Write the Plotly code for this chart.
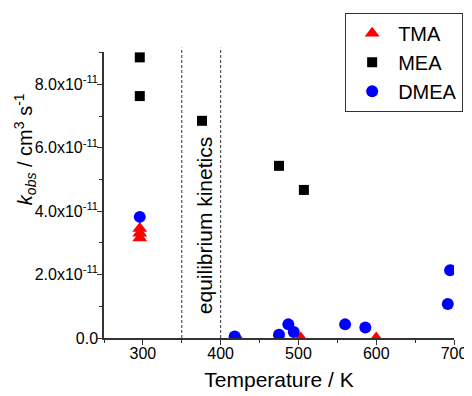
import plotly.graph_objects as go

# Data (temperature in K, k_obs in cm^3 s^-1)
tma_T = [296, 296, 296, 422, 503, 600]
tma_k = [3.45e-11, 3.3e-11, 3.15e-11, 0.0, 0.0, 0.0]

mea_T = [296, 296, 376, 475, 507]
mea_k = [8.85e-11, 7.63e-11, 6.85e-11, 5.43e-11, 4.67e-11]

dmea_T = [296, 418, 475, 487, 494, 560, 586, 692, 695]
dmea_k = [3.82e-11, 0.05e-11, 0.1e-11, 0.43e-11, 0.19e-11, 0.43e-11, 0.33e-11, 1.07e-11, 2.14e-11]

ytick_vals = [0, 2e-11, 4e-11, 6e-11, 8e-11]
ytick_text = ["0.0", "2.0x10<sup>-11</sup>", "4.0x10<sup>-11</sup>",
              "6.0x10<sup>-11</sup>", "8.0x10<sup>-11</sup>"]
xtick_vals = [300, 400, 500, 600, 700]
eq_lines = [350, 400]

FONT = "Liberation Sans, Arial, sans-serif"

fig = go.Figure()
fig.add_trace(go.Scatter(x=tma_T, y=tma_k, mode="markers", name="TMA",
                         marker=dict(symbol="triangle-up", size=13, color="#ff0000")))
fig.add_trace(go.Scatter(x=mea_T, y=mea_k, mode="markers", name="MEA",
                         marker=dict(symbol="square", size=10, color="#000000")))
fig.add_trace(go.Scatter(x=dmea_T, y=dmea_k, mode="markers", name="DMEA",
                         marker=dict(symbol="circle", size=12, color="#0000ff")))

for xv in eq_lines:
    fig.add_shape(type="line", x0=xv, x1=xv, xref="x", yref="paper", y0=0, y1=1.015,
                  line=dict(color="#333333", width=1, dash="3px,2px"))

fig.add_annotation(x=378.7, y=3.53e-11, xref="x", yref="y", text="equilibrium kinetics",
                   textangle=-90, showarrow=False, xanchor="center", yanchor="middle",
                   font=dict(size=21, color="#000", family=FONT))

fig.add_annotation(x=-0.226, y=0.66, xref="paper", yref="paper",
                   text="<i>k<sub>obs</sub></i> / cm<sup>3</sup> s<sup>-1</sup>",
                   textangle=-90, showarrow=False, xanchor="center", yanchor="middle",
                   font=dict(size=20, color="#000", family=FONT))

# the page body adds an 8px offset; the figure is sized to fill the rest of the window
fig.update_layout(
    width=464, height=388,
    margin=dict(l=96, r=18, t=44, b=58, autoexpand=False),
    paper_bgcolor="white", plot_bgcolor="white",
    font=dict(family=FONT, size=16, color="#000"),
    showlegend=True,
    legend=dict(x=0.689, y=1.137, xanchor="left", yanchor="top",
                bordercolor="#333333", borderwidth=1, bgcolor="white",
                font=dict(size=20, family=FONT), itemwidth=42,
                entrywidth=90, entrywidthmode="pixels",
                tracegroupgap=0),
    xaxis=dict(range=[250, 700], tickvals=xtick_vals, showgrid=False, zeroline=False,
               automargin=False,
               showline=True, linecolor="#333333", linewidth=1.5,
               ticks="outside", ticklen=5, tickwidth=1, tickcolor="#333333",
               ticklabelstandoff=-5,
               minor=dict(ticks="outside", ticklen=3, tickwidth=1, tickcolor="#333333", dtick=50),
               title=dict(text="Temperature / K", font=dict(size=21), standoff=11),
               tickfont=dict(size=16)),
    yaxis=dict(range=[0, 9.02e-11], tickvals=ytick_vals, ticktext=ytick_text,
               showgrid=False, zeroline=False, automargin=False,
               showline=True, linecolor="#333333", linewidth=1.5,
               ticks="outside", ticklen=5, tickwidth=1, tickcolor="#333333",
               ticklabelstandoff=-4,
               minor=dict(ticks="outside", ticklen=3, tickwidth=1, tickcolor="#333333",
                          tickvals=[1e-11, 3e-11, 5e-11, 7e-11, 9e-11]),
               tickfont=dict(size=16)),
)

fig.write_html("out.html")
